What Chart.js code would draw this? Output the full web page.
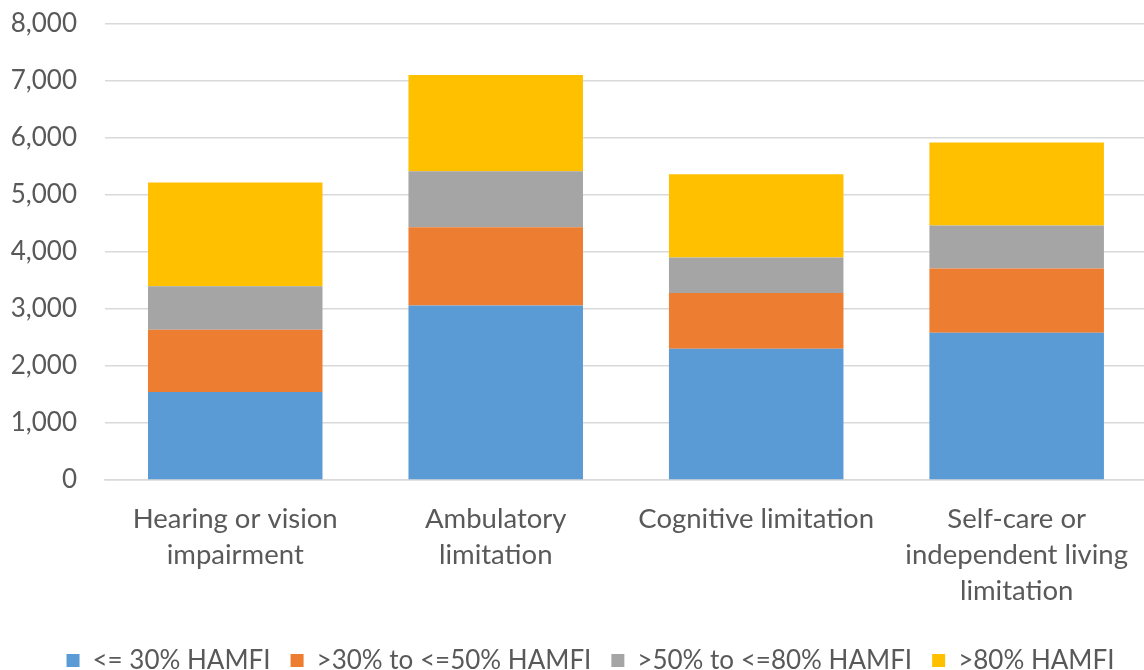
<!DOCTYPE html>
<html>
<head>
<meta charset="utf-8">
<script src="https://cdn.jsdelivr.net/npm/chart.js@4/dist/chart.umd.min.js"></script>
<style>
  html, body { margin: 0; padding: 0; background: #fff; overflow: hidden; }
  #wrap { width: 1149px; height: 670px; position: relative; }
</style>
</head>
<body>
<div id="wrap"><canvas id="chart"></canvas></div>
<script>
// categories and series
const categorias = [
  ['Hearing or vision', 'impairment'],
  ['Ambulatory', 'limitation'],
  ['Cognitive limitation'],
  ['Self-care or', 'independent living', 'limitation'],
];

const series = ['<= 30% HAMFI', '>30% to <=50% HAMFI', '>50% to <=80% HAMFI', '>80% HAMFI'];

const ate30 = [1540, 3056, 2300, 2582];
const de30a50 = [1095, 1374, 977, 1123];
const de50a80 = [760, 982, 621, 755];
const acima80 = [1820, 1684, 1462, 1456];

const CORES = ['#5B9BD5', '#ED7D31', '#A5A5A5', '#FFC000'];
const TEXTO = '#595959';
const GRADE = '#D9D9D9';
const FONTE = "Lato, 'Open Sans', sans-serif";

const valores = [ate30, de30a50, de50a80, acima80];

// legenda um pouco deslocada para a direita, como no original
const deslocaLegenda = {
  id: 'deslocaLegenda',
  afterLayout(chart) {
    chart.legend.left += 12;
    chart.legend.right += 12;
  },
};

new Chart(document.getElementById('chart'), {
  type: 'bar',
  data: {
    labels: categorias,
    datasets: series.map((nome, i) => ({
      label: nome,
      data: valores[i],
      backgroundColor: CORES[i],
      borderWidth: 0,
      categoryPercentage: 0.67,
      barPercentage: 1,
    })),
  },
  plugins: [deslocaLegenda],
  options: {
    responsive: true,
    maintainAspectRatio: false,
    animation: false,
    layout: { padding: { top: 23.5, right: 0, left: 8, bottom: -13.5 } },
    plugins: {
      tooltip: { enabled: false },
      legend: {
        position: 'bottom',
        labels: {
          color: TEXTO,
          font: { family: FONTE, size: 26 },
          boxWidth: 13,
          boxHeight: 13,
          padding: 20,
        },
      },
    },
    scales: {
      x: {
        stacked: true,
        grid: { display: false, drawTicks: false },
        border: { display: true, color: GRADE, width: 1.5 },
        afterFit: (scale) => { scale.height = 147.5; },
        ticks: {
          color: TEXTO,
          font: { family: FONTE, size: 27.5, lineHeight: 1.31 },
          padding: 21,
          maxRotation: 0,
        },
      },
      y: {
        stacked: true,
        min: 0,
        max: 8000,
        grid: { color: GRADE, lineWidth: 1.5, drawTicks: false },
        border: { display: false },
        afterFit: (scale) => {
          scale.width = 97;
          scale.paddingTop = 0;
          scale.paddingBottom = 0;
        },
        ticks: {
          stepSize: 1000,
          color: TEXTO,
          font: { family: FONTE, size: 26 },
          padding: 28,
          callback: (v) => v.toLocaleString('en-US'),
        },
      },
    },
  },
});
</script>
</body>
</html>
